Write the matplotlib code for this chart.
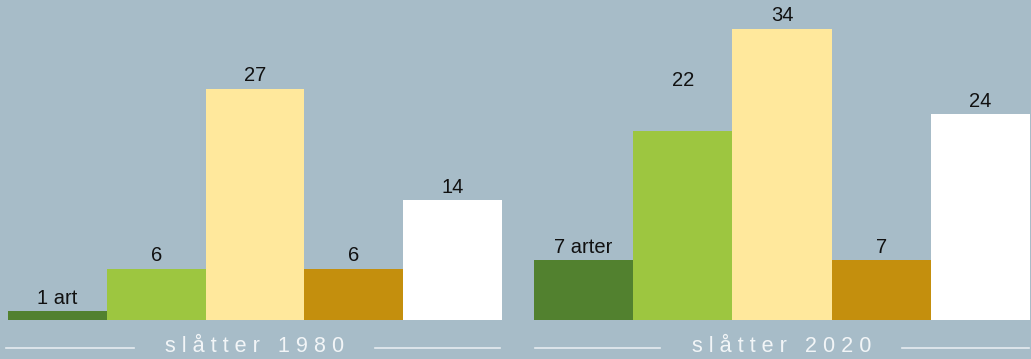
import matplotlib.pyplot as plt
import matplotlib.lines as mlines

# antal arter per kategori
kategorier = ['kat1', 'kat2', 'kat3', 'kat4', 'kat5']
arter_1980 = [1, 6, 27, 6, 14]
arter_2020 = [7, 22, 34, 7, 24]
etiketter_1980 = ['1 art', '6', '27', '6', '14']
etiketter_2020 = ['7 arter', '22', '34', '7', '24']
rubriker = ['slåtter 1980', 'slåtter 2020']

farger = ['#52812f', '#9dc640', '#ffe89c', '#c48f0d', '#ffffff']
bakgrund = '#a7bcc8'

W, H = 1031, 359
fig = plt.figure(figsize=(W / 100, H / 100), dpi=100, facecolor=bakgrund)
plt.rcParams['font.family'] = ['Liberation Sans', 'DejaVu Sans']

px_per_art = 8.57
ymax = 320 / px_per_art


def spaca(s):
    # bokstavsavstånd som i originalet
    return ' '.join(s)


paneler = [
    (8, 502, arter_1980, etiketter_1980, rubriker[0], (6, 134), (375, 500)),
    (534, 1030, arter_2020, etiketter_2020, rubriker[1], (535, 660), (902, 1029)),
]

for x0, x1, varden, etiketter, rubrik, linje_v, linje_h in paneler:
    ax = fig.add_axes([x0 / W, (H - 320) / H, (x1 - x0) / W, 320 / H])
    ax.set_facecolor('none')
    pos = range(len(varden))
    ax.bar(pos, varden, width=1.0, color=farger, edgecolor='none')
    for i, (v, t) in enumerate(zip(varden, etiketter)):
        y = v
        # 22-etiketten sitter högre upp i originalet
        if t == '22':
            y = 26.4
        ax.text(i, y + 13 / px_per_art, t, ha='center', va='center',
                fontsize=14.5, color='#111111')
    ax.set_xlim(-0.5, len(varden) - 0.5)
    ax.set_ylim(0, ymax)
    ax.axis('off')

    xc = (x0 + x1) / 2
    fig.text(xc / W, 1 - 346 / H, spaca(rubrik), ha='center', va='center',
             fontsize=15.6, color='#f2f5f7')
    for a, b in (linje_v, linje_h):
        fig.add_artist(mlines.Line2D([a / W, b / W], [1 - 348 / H, 1 - 348 / H],
                                     color='#e6ecf0', linewidth=1.2))

fig.savefig('out.png', dpi=100, facecolor=bakgrund)
